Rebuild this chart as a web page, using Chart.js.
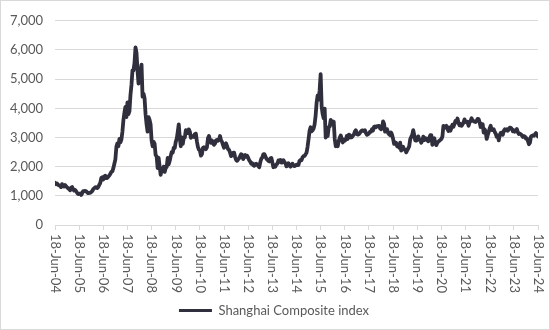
<!DOCTYPE html>
<html>
<head>
<meta charset="utf-8">
<script src="https://cdn.jsdelivr.net/npm/chart.js@4/dist/chart.umd.min.js"></script>
<style>
  html, body { margin: 0; padding: 0; background: #fff; }
  #wrap { width: 550px; height: 330px; box-sizing: border-box; border: 1px solid #d9d9d9; position: relative; }
  #wrap canvas { display: block; }
</style>
</head>
<body>
<div id="wrap"><canvas id="shcomp-chart" width="548" height="328"></canvas></div>
<script>
// Shanghai Composite, roughly twice a month from 18 Jun 2004 to 18 Jun 2024
const yearLabels = ['18-Jun-04', '18-Jun-05', '18-Jun-06', '18-Jun-07', '18-Jun-08', '18-Jun-09', '18-Jun-10',
  '18-Jun-11', '18-Jun-12', '18-Jun-13', '18-Jun-14', '18-Jun-15', '18-Jun-16', '18-Jun-17', '18-Jun-18',
  '18-Jun-19', '18-Jun-20', '18-Jun-21', '18-Jun-22', '18-Jun-23', '18-Jun-24'];

const yTicks = [0, 1000, 2000, 3000, 4000, 5000, 6000, 7000];

const shcomp = [
  // 2004-05
  1450, 1400, 1420, 1380, 1360, 1350, 1300, 1400, 1340, 1320, 1370, 1330, 1290, 1260, 1230, 1190, 1280, 1300, 1230, 1180, 1200, 1160, 1100, 1060,
  // 2005-06
  1070, 1080, 1030, 1090, 1160, 1160, 1170, 1155, 1120, 1090, 1100, 1100, 1130, 1160, 1230, 1260, 1290, 1300, 1270, 1300, 1380, 1440, 1610, 1640,
  // 2006-07
  1560, 1670, 1690, 1610, 1610, 1660, 1700, 1750, 1820, 1840, 1950, 2100, 2250, 2680, 2800, 2700, 2950, 2830, 2930, 3200, 3600, 3850, 4050, 3700,
  // 2007-08
  4200, 3800, 3900, 4450, 4800, 5300, 5300, 5550, 6090, 5900, 5300, 4850, 5000, 5260, 5500, 4400, 4500, 4350, 3800, 3450, 3200, 3700, 3600, 3450,
  // 2008-09
  2900, 2700, 2850, 2780, 2400, 2350, 1950, 2300, 2000, 1720, 1900, 1880, 2000, 1820, 1950, 1990, 2300, 2080, 2200, 2370, 2500, 2480, 2650, 2640,
  // 2009-10
  2850, 2960, 3200, 3450, 3000, 2700, 3000, 2780, 3000, 3000, 3250, 3200, 3150, 3280, 3200, 2990, 3020, 3050, 3020, 3120, 3130, 2870, 2680, 2590,
  // 2010-11
  2560, 2380, 2430, 2640, 2670, 2640, 2600, 2660, 2970, 3050, 2900, 2820, 2900, 2810, 2750, 2790, 2900, 2920, 2890, 2930, 3050, 2910, 2850, 2740,
  // 2011-12
  2650, 2760, 2800, 2700, 2600, 2570, 2480, 2360, 2400, 2470, 2480, 2330, 2230, 2200, 2250, 2290, 2360, 2430, 2400, 2260, 2360, 2400, 2340, 2370,
  // 2012-13
  2300, 2220, 2170, 2100, 2120, 2050, 2030, 2090, 2100, 2070, 2020, 1980, 2150, 2270, 2310, 2420, 2430, 2360, 2280, 2240, 2200, 2180, 2280, 2300,
  // 2013-14
  2150, 1980, 2040, 2000, 2080, 2100, 2210, 2170, 2230, 2140, 2140, 2220, 2160, 2120, 2010, 2030, 2120, 2060, 2000, 2040, 2100, 2030, 2020, 2040,
  // 2014-15
  2070, 2050, 2060, 2200, 2230, 2220, 2320, 2360, 2370, 2420, 2480, 2680, 2950, 3230, 3350, 3210, 3250, 3310, 3450, 3750, 4200, 4440, 4300, 4620,
  // 2015-16
  5170, 4050, 3800, 3660, 3990, 3000, 3150, 3050, 3350, 3380, 3600, 3450, 3550, 3540, 2950, 2700, 2750, 2700, 2880, 3000, 3070, 2940, 2830, 2920,
  // 2016-17
  2890, 2930, 3050, 2950, 3100, 3080, 3000, 3005, 3060, 3100, 3200, 3250, 3120, 3100, 3110, 3160, 3210, 3240, 3240, 3220, 3250, 3150, 3090, 3110,
  // 2017-18
  3140, 3190, 3200, 3280, 3240, 3360, 3380, 3350, 3390, 3390, 3400, 3320, 3280, 3310, 3550, 3480, 3200, 3270, 3280, 3160, 3110, 3080, 3170, 3090,
  // 2018-19
  2950, 2780, 2830, 2820, 2700, 2720, 2650, 2820, 2550, 2600, 2680, 2590, 2580, 2490, 2560, 2620, 2700, 2940, 3020, 3090, 3250, 3080, 2900, 2890,
  // 2019-20
  2920, 3040, 2920, 2910, 2820, 2890, 3030, 2910, 2980, 2960, 2900, 2870, 3000, 3080, 3080, 2750, 2920, 2970, 2790, 2740, 2820, 2860, 2890, 2920,
  // 2020-21
  2950, 3030, 3400, 3330, 3360, 3400, 3300, 3220, 3340, 3230, 3340, 3440, 3370, 3470, 3570, 3520, 3650, 3500, 3420, 3460, 3400, 3450, 3520, 3620,
  // 2021-22
  3530, 3520, 3540, 3400, 3520, 3570, 3660, 3570, 3570, 3540, 3530, 3570, 3640, 3630, 3520, 3360, 3460, 3460, 3170, 3280, 3200, 2950, 3080, 3190,
  // 2022-23
  3320, 3400, 3250, 3250, 3280, 3190, 3130, 3020, 3070, 2900, 3090, 3160, 3170, 3090, 3230, 3280, 3250, 3280, 3230, 3290, 3340, 3330, 3290, 3210,
  // 2023-24
  3250, 3200, 3240, 3290, 3180, 3120, 3130, 3110, 3070, 3020, 3050, 3030, 2960, 2970, 2880, 2770, 2820, 3030, 3060, 3070, 3060, 3110, 3150, 3090,
  3030
];

// x position in months since 18 Jun 2004, two readings per month
const points = shcomp.map((v, i) => ({ x: i / 2, y: v }));

const textGrey = '#595959';
const gridGrey = '#d9d9d9';
const lineColour = '#302f3d';
const fontFamily = 'Lato, "Liberation Sans", sans-serif';

// draws the year labels vertically, reading top to bottom
const verticalYearLabels = {
  id: 'verticalYearLabels',
  afterDraw(chart) {
    const ctx = chart.ctx;
    const xScale = chart.scales.x;
    const top = chart.chartArea.bottom + 9;
    ctx.save();
    ctx.font = '13px ' + fontFamily;
    ctx.fillStyle = textGrey;
    ctx.textAlign = 'left';
    ctx.textBaseline = 'middle';
    yearLabels.forEach((label, i) => {
      const px = xScale.getPixelForValue(i * 12);
      ctx.save();
      ctx.translate(px, top);
      ctx.rotate(Math.PI / 2);
      ctx.fillText(label, 0, 0);
      ctx.restore();
    });
    ctx.restore();
  }
};

const ctx = document.getElementById('shcomp-chart').getContext('2d');
new Chart(ctx, {
  type: 'line',
  data: {
    datasets: [{
      label: 'Shanghai Composite index',
      data: points,
      borderColor: lineColour,
      backgroundColor: lineColour,
      borderWidth: 3.8,
      pointRadius: 0,
      tension: 0,
      borderJoinStyle: 'round',
      borderCapStyle: 'round'
    }]
  },
  options: {
    responsive: false,
    animation: false,
    events: [],
    layout: { padding: { left: 9, right: 11, top: 16, bottom: 2 } },
    scales: {
      x: {
        type: 'linear',
        min: 0,
        max: 240,
        afterFit(scale) { scale.height = 73; },
        border: { display: true, color: gridGrey, width: 1 },
        grid: { drawOnChartArea: false, drawTicks: true, tickLength: 5, color: gridGrey },
        ticks: { display: false, stepSize: 12, autoSkip: false, maxTicksLimit: 30 }
      },
      y: {
        min: 0,
        max: 7000,
        afterFit(scale) { scale.width = 45; },
        afterBuildTicks(scale) { scale.ticks = yTicks.map(v => ({ value: v })); },
        border: { display: false },
        grid: { color: gridGrey, lineWidth: 1, drawTicks: false },
        ticks: {
          padding: 12,
          color: textGrey,
          font: { family: fontFamily, size: 13 },
          callback: v => v.toLocaleString('en-US')
        }
      }
    },
    plugins: {
      legend: {
        position: 'bottom',
        labels: {
          color: textGrey,
          font: { family: fontFamily, size: 13 },
          boxWidth: 33,
          boxHeight: 3,
          padding: 6,
          generateLabels(chart) {
            const items = Chart.defaults.plugins.legend.labels.generateLabels(chart);
            items.forEach(item => { item.lineWidth = 0; });
            return items;
          }
        }
      },
      tooltip: { enabled: false }
    }
  },
  plugins: [verticalYearLabels]
});
</script>
</body>
</html>
